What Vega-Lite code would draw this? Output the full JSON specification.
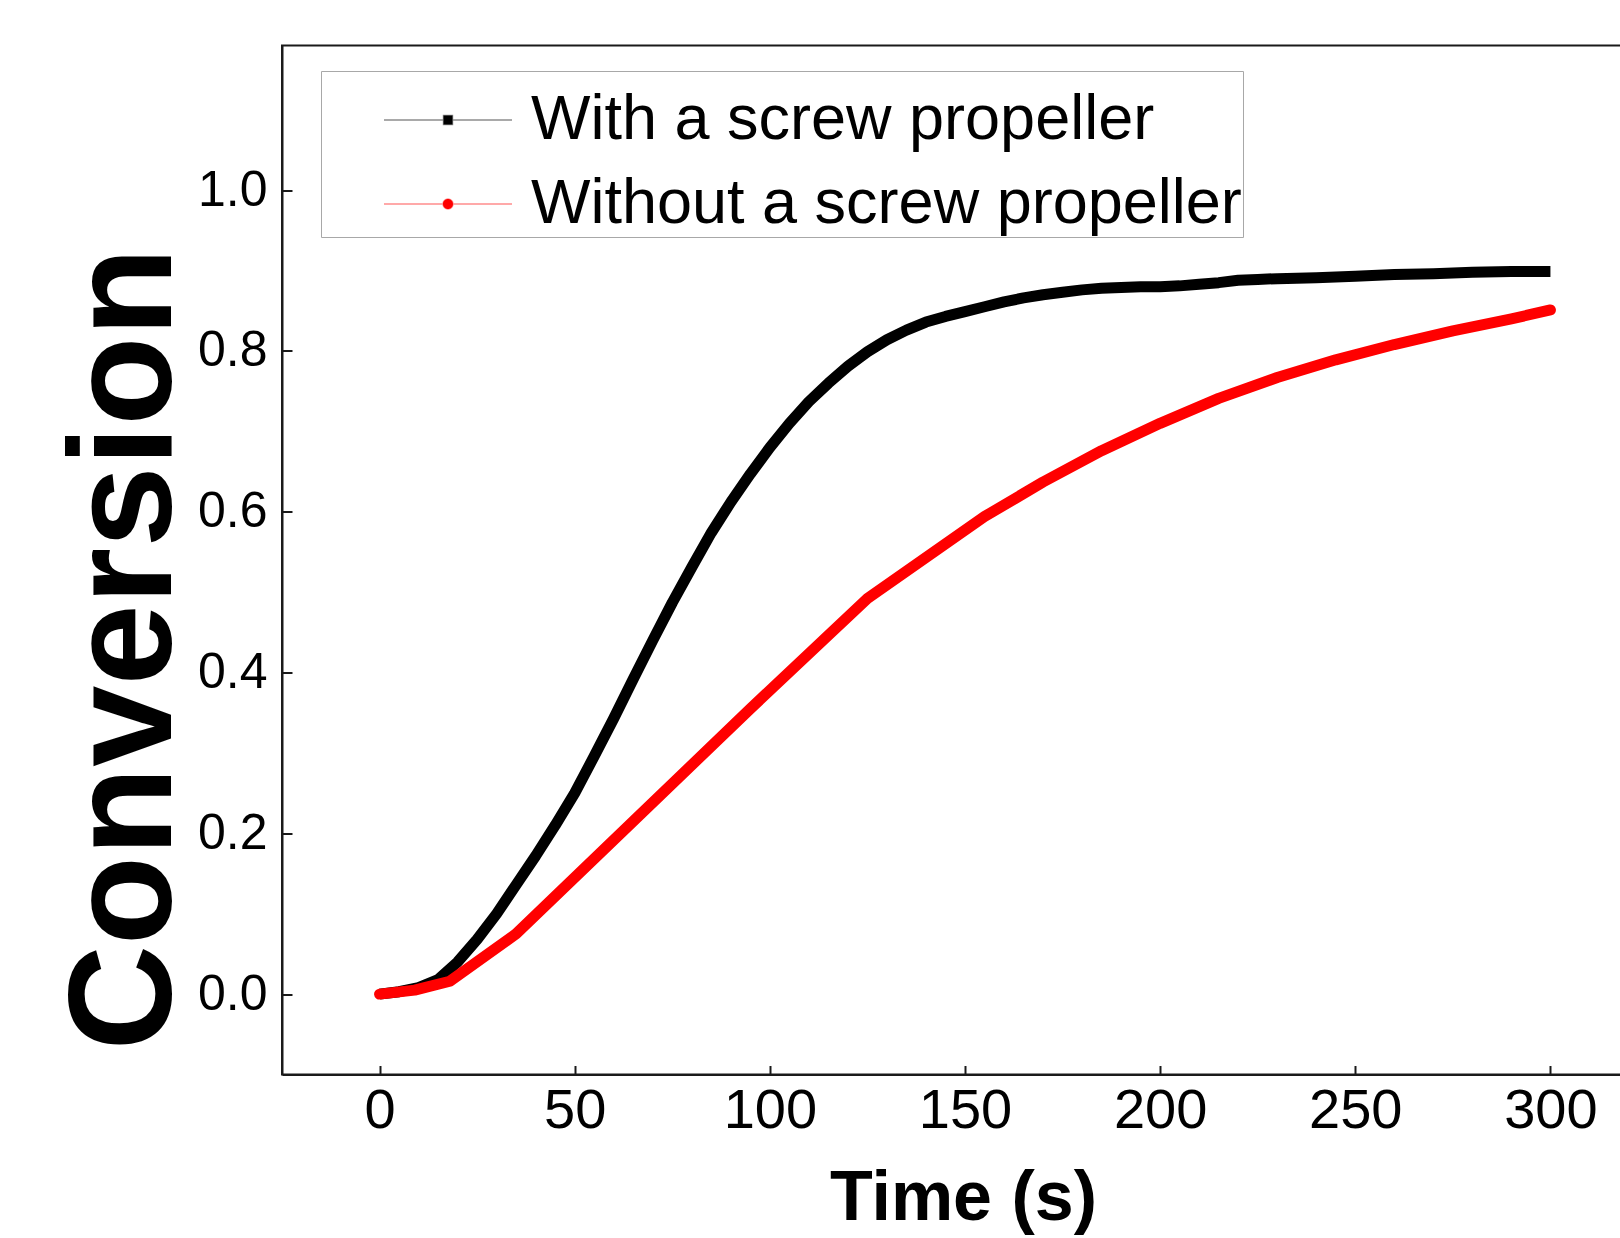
{
  "$schema": "https://vega.github.io/schema/vega-lite/v6.json",
  "autosize": {"type": "none"},
  "padding": {"left": 282, "top": 45.5, "right": -28, "bottom": 163.5},
  "width": 1366,
  "height": 1029,
  "background": "white",
  "config": {
    "view": {"stroke": "#1a1a1a", "strokeWidth": 2},
    "axis": {"grid": false, "domainColor": "#1a1a1a", "domainWidth": 2, "tickColor": "#1a1a1a", "tickWidth": 2, "labelColor": "black", "titleColor": "black"}
  },
  "data": {"values": [
    {"series": "With a screw propeller", "t": 0, "c": 0.000},
    {"series": "With a screw propeller", "t": 5, "c": 0.003},
    {"series": "With a screw propeller", "t": 10, "c": 0.008},
    {"series": "With a screw propeller", "t": 15, "c": 0.018},
    {"series": "With a screw propeller", "t": 20, "c": 0.040},
    {"series": "With a screw propeller", "t": 25, "c": 0.068},
    {"series": "With a screw propeller", "t": 30, "c": 0.100},
    {"series": "With a screw propeller", "t": 35, "c": 0.136},
    {"series": "With a screw propeller", "t": 40, "c": 0.172},
    {"series": "With a screw propeller", "t": 45, "c": 0.210},
    {"series": "With a screw propeller", "t": 50, "c": 0.250},
    {"series": "With a screw propeller", "t": 55, "c": 0.296},
    {"series": "With a screw propeller", "t": 60, "c": 0.343},
    {"series": "With a screw propeller", "t": 65, "c": 0.392},
    {"series": "With a screw propeller", "t": 70, "c": 0.440},
    {"series": "With a screw propeller", "t": 75, "c": 0.487},
    {"series": "With a screw propeller", "t": 80, "c": 0.531},
    {"series": "With a screw propeller", "t": 85, "c": 0.574},
    {"series": "With a screw propeller", "t": 90, "c": 0.612},
    {"series": "With a screw propeller", "t": 95, "c": 0.647},
    {"series": "With a screw propeller", "t": 100, "c": 0.680},
    {"series": "With a screw propeller", "t": 105, "c": 0.710},
    {"series": "With a screw propeller", "t": 110, "c": 0.737},
    {"series": "With a screw propeller", "t": 115, "c": 0.760},
    {"series": "With a screw propeller", "t": 120, "c": 0.781},
    {"series": "With a screw propeller", "t": 125, "c": 0.799},
    {"series": "With a screw propeller", "t": 130, "c": 0.814},
    {"series": "With a screw propeller", "t": 135, "c": 0.826},
    {"series": "With a screw propeller", "t": 140, "c": 0.836},
    {"series": "With a screw propeller", "t": 145, "c": 0.843},
    {"series": "With a screw propeller", "t": 150, "c": 0.849},
    {"series": "With a screw propeller", "t": 155, "c": 0.855},
    {"series": "With a screw propeller", "t": 160, "c": 0.861},
    {"series": "With a screw propeller", "t": 165, "c": 0.866},
    {"series": "With a screw propeller", "t": 170, "c": 0.870},
    {"series": "With a screw propeller", "t": 175, "c": 0.873},
    {"series": "With a screw propeller", "t": 180, "c": 0.876},
    {"series": "With a screw propeller", "t": 185, "c": 0.878},
    {"series": "With a screw propeller", "t": 190, "c": 0.879},
    {"series": "With a screw propeller", "t": 195, "c": 0.880},
    {"series": "With a screw propeller", "t": 200, "c": 0.880},
    {"series": "With a screw propeller", "t": 205, "c": 0.881},
    {"series": "With a screw propeller", "t": 210, "c": 0.883},
    {"series": "With a screw propeller", "t": 215, "c": 0.885},
    {"series": "With a screw propeller", "t": 220, "c": 0.888},
    {"series": "With a screw propeller", "t": 225, "c": 0.889},
    {"series": "With a screw propeller", "t": 230, "c": 0.890},
    {"series": "With a screw propeller", "t": 240, "c": 0.891},
    {"series": "With a screw propeller", "t": 250, "c": 0.893},
    {"series": "With a screw propeller", "t": 260, "c": 0.895},
    {"series": "With a screw propeller", "t": 270, "c": 0.896},
    {"series": "With a screw propeller", "t": 280, "c": 0.898},
    {"series": "With a screw propeller", "t": 290, "c": 0.899},
    {"series": "With a screw propeller", "t": 300, "c": 0.899},
    {"series": "Without a screw propeller", "t": 0, "c": 0.000},
    {"series": "Without a screw propeller", "t": 9, "c": 0.005},
    {"series": "Without a screw propeller", "t": 18, "c": 0.016},
    {"series": "Without a screw propeller", "t": 35, "c": 0.075},
    {"series": "Without a screw propeller", "t": 65, "c": 0.215},
    {"series": "Without a screw propeller", "t": 95, "c": 0.355},
    {"series": "Without a screw propeller", "t": 125, "c": 0.492},
    {"series": "Without a screw propeller", "t": 155, "c": 0.594},
    {"series": "Without a screw propeller", "t": 170, "c": 0.637},
    {"series": "Without a screw propeller", "t": 185, "c": 0.676},
    {"series": "Without a screw propeller", "t": 200, "c": 0.710},
    {"series": "Without a screw propeller", "t": 215, "c": 0.741},
    {"series": "Without a screw propeller", "t": 230, "c": 0.767},
    {"series": "Without a screw propeller", "t": 245, "c": 0.789},
    {"series": "Without a screw propeller", "t": 260, "c": 0.808},
    {"series": "Without a screw propeller", "t": 275, "c": 0.825},
    {"series": "Without a screw propeller", "t": 290, "c": 0.840},
    {"series": "Without a screw propeller", "t": 300, "c": 0.851}
  ]},
  "resolve": {"axis": {"x": "independent", "y": "independent"}},
  "layer": [
    {
      "transform": [{"filter": "datum.series === 'With a screw propeller'"}],
      "mark": {"type": "line", "color": "#000000", "strokeWidth": 11, "strokeJoin": "round", "clip": true},
      "encoding": {
        "x": {
          "field": "t", "type": "quantitative",
          "scale": {"domain": [-25, 325], "nice": false, "zero": false},
          "axis": {
            "values": [0, 50, 100, 150, 200, 250, 300],
            "title": "Time (s)",
            "titleFont": "Liberation Sans", "titleFontSize": 70, "titleFontWeight": "bold",
            "titleX": 681, "titleY": 144.5, "titleBaseline": "alphabetic", "titleAlign": "center",
            "labelFont": "Liberation Sans", "labelFontSize": 56,
            "ticks": false, "tickSize": 0, "labelPadding": 9, "labelFlush": false, "labelOverlap": false
          }
        },
        "y": {
          "field": "c", "type": "quantitative",
          "scale": {"domain": [-0.1, 1.18], "nice": false, "zero": false},
          "axis": {
            "values": [0, 0.2, 0.4, 0.6, 0.8, 1.0],
            "format": ".1f",
            "title": "Conversion",
            "titleFont": "Liberation Sans", "titleFontSize": 146, "titleFontWeight": "bold",
            "titleX": -112, "titleY": 603, "titleAngle": 270, "titleBaseline": "alphabetic", "titleAlign": "center",
            "labelFont": "Liberation Sans", "labelFontSize": 50,
            "ticks": false, "tickSize": 0, "labelPadding": 15, "labelFlush": false, "labelOverlap": false
          }
        },
        "order": {"field": "t", "type": "quantitative"}
      }
    },
    {
      "transform": [{"filter": "datum.series === 'Without a screw propeller'"}],
      "mark": {"type": "line", "color": "#ff0000", "strokeWidth": 11, "strokeCap": "round", "strokeJoin": "round", "clip": true},
      "encoding": {
        "x": {"field": "t", "type": "quantitative", "axis": null},
        "y": {"field": "c", "type": "quantitative", "axis": null},
        "order": {"field": "t", "type": "quantitative"}
      }
    },
    {
      "mark": {"type": "point", "filled": true, "opacity": 0, "clip": true},
      "encoding": {
        "x": {
          "field": "t", "type": "quantitative",
          "axis": {"orient": "top", "offset": -1029, "values": [0, 50, 100, 150, 200, 250, 300], "labels": false, "domain": false, "ticks": true, "tickSize": 9, "title": null}
        },
        "y": {
          "field": "c", "type": "quantitative",
          "axis": {"orient": "right", "offset": -1366, "values": [0, 0.2, 0.4, 0.6, 0.8, 1.0], "labels": false, "domain": false, "ticks": true, "tickSize": 10, "title": null}
        },
        "color": {
          "field": "series", "type": "nominal",
          "scale": {"domain": ["With a screw propeller", "Without a screw propeller"], "range": ["#000000", "#ff0000"]},
          "legend": {
            "title": "\u00a0", "titleFontSize": 10, "titlePadding": 5, "orient": "none", "legendX": 39, "legendY": 25.5,
            "strokeColor": "#a8a8a8", "fillColor": "white", "padding": 1,
            "symbolSize": 4096, "symbolOffset": 93, "symbolStrokeWidth": 1.5, "symbolOpacity": 1,
            "labelFont": "Liberation Sans", "labelFontSize": 63, "labelColor": "black", "labelOffset": 50, "labelLimit": 2000,
            "labelExpr": "datum.label + '\u00a0'",
            "rowPadding": 19,
            "encode": {"symbols": {"update": {"stroke": {"scale": "color", "field": "value"}, "strokeOpacity": {"value": 0.45}, "strokeWidth": {"value": 1.5}, "opacity": {"value": 1}}}}
          }
        },
        "shape": {
          "field": "series", "type": "nominal",
          "scale": {"domain": ["With a screw propeller", "Without a screw propeller"], "range": ["M-2,0H2M-0.14,-0.14H0.14V0.14H-0.14Z", "M-2,0H2M0.156,0A0.156,0.156,0,1,1,-0.156,0A0.156,0.156,0,1,1,0.156,0Z"]},
          "legend": {
            "title": "\u00a0", "titleFontSize": 10, "titlePadding": 5, "orient": "none", "legendX": 39, "legendY": 25.5,
            "strokeColor": "#a8a8a8", "fillColor": "white", "padding": 1,
            "symbolSize": 4096, "symbolOffset": 93, "symbolStrokeWidth": 1.5, "symbolOpacity": 1,
            "labelFont": "Liberation Sans", "labelFontSize": 63, "labelColor": "black", "labelOffset": 50, "labelLimit": 2000,
            "labelExpr": "datum.label + '\u00a0'",
            "rowPadding": 19,
            "encode": {"symbols": {"update": {"stroke": {"scale": "color", "field": "value"}, "strokeOpacity": {"value": 0.45}, "strokeWidth": {"value": 1.5}, "opacity": {"value": 1}}}}
          }
        }
      }
    }
  ]
}
